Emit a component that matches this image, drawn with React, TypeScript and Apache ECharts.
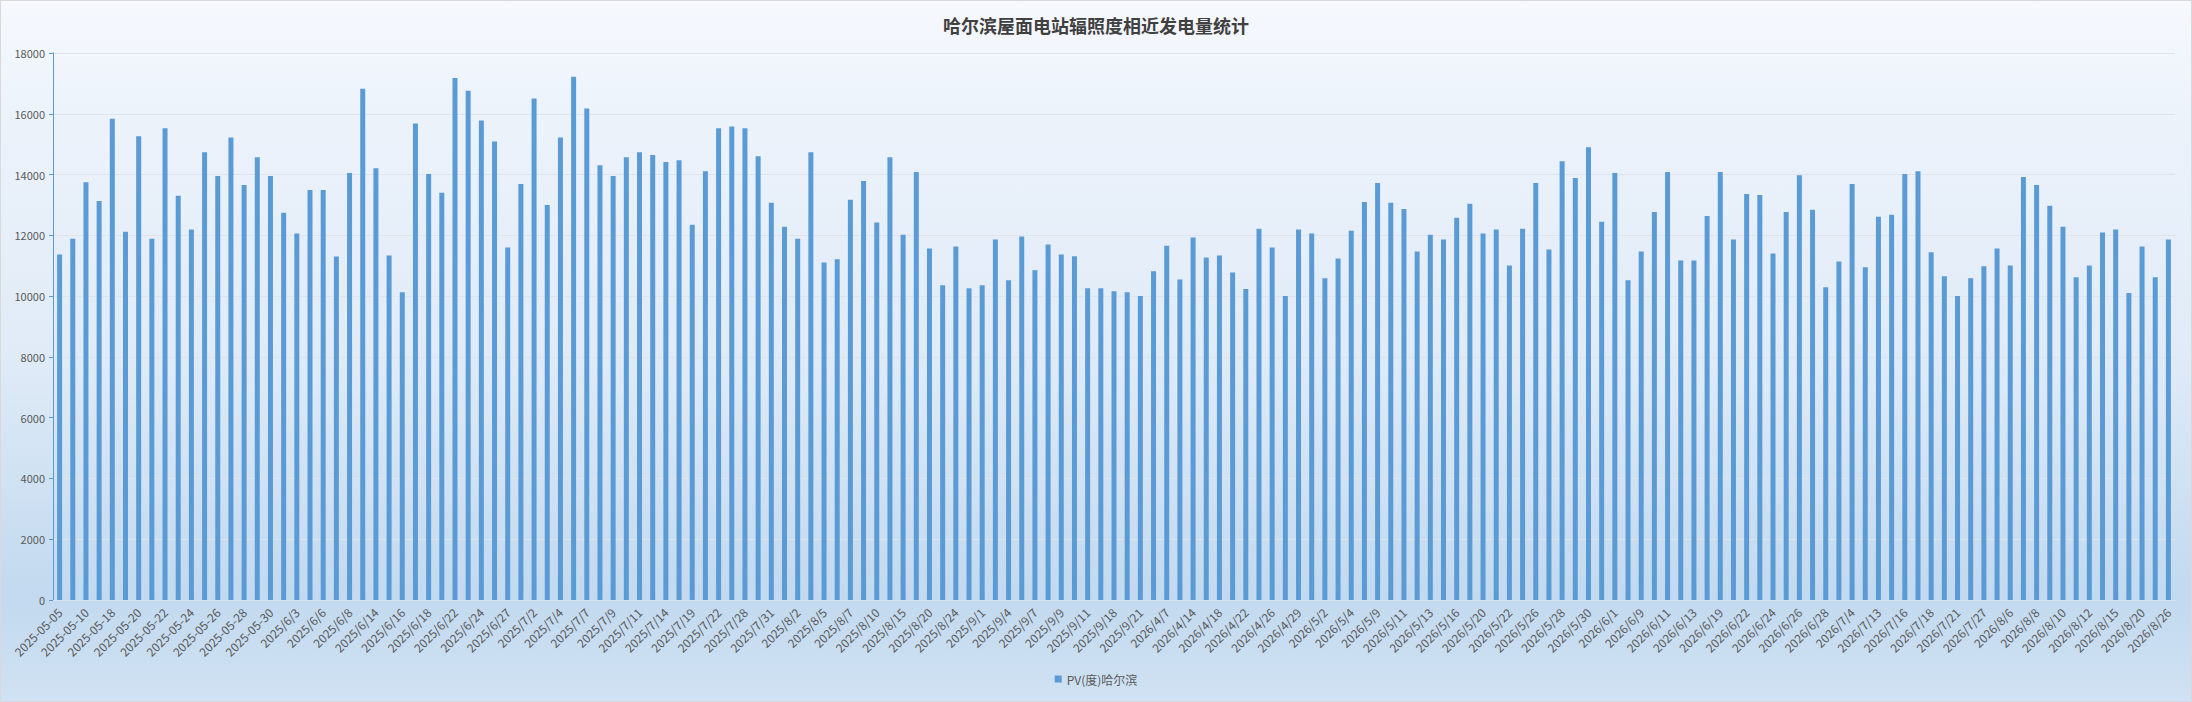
import React, { useEffect, useRef } from "react";
import * as echarts from "echarts";

const titleText = "哈尔滨屋面电站辐照度相近发电量统计";
const seriesName = "PV(度)哈尔滨";

const categories: string[] = [
  "2025-05-05", "2025-05-08", "2025-05-10", "2025-05-15", "2025-05-18", "2025-05-19", "2025-05-20", "2025-05-21",
  "2025-05-22", "2025-05-23", "2025-05-24", "2025-05-25", "2025-05-26", "2025-05-27", "2025-05-28", "2025-05-29",
  "2025-05-30", "2025/6/1", "2025/6/3", "2025/6/4", "2025/6/6", "2025/6/7", "2025/6/8", "2025/6/10",
  "2025/6/14", "2025/6/15", "2025/6/16", "2025/6/17", "2025/6/18", "2025/6/20", "2025/6/22", "2025/6/23",
  "2025/6/24", "2025/6/25", "2025/6/27", "2025/6/30", "2025/7/2", "2025/7/3", "2025/7/4", "2025/7/6",
  "2025/7/7", "2025/7/8", "2025/7/9", "2025/7/10", "2025/7/11", "2025/7/13", "2025/7/14", "2025/7/17",
  "2025/7/19", "2025/7/21", "2025/7/22", "2025/7/25", "2025/7/28", "2025/7/30", "2025/7/31", "2025/8/1",
  "2025/8/2", "2025/8/3", "2025/8/5", "2025/8/6", "2025/8/7", "2025/8/9", "2025/8/10", "2025/8/12",
  "2025/8/15", "2025/8/17", "2025/8/20", "2025/8/22", "2025/8/24", "2025/8/28", "2025/9/1", "2025/9/2",
  "2025/9/4", "2025/9/5", "2025/9/7", "2025/9/8", "2025/9/9", "2025/9/10", "2025/9/11", "2025/9/15",
  "2025/9/18", "2025/9/20", "2025/9/21", "2026/4/3", "2026/4/7", "2026/4/10", "2026/4/14", "2026/4/16",
  "2026/4/18", "2026/4/20", "2026/4/22", "2026/4/24", "2026/4/26", "2026/4/28", "2026/4/29", "2026/5/1",
  "2026/5/2", "2026/5/3", "2026/5/4", "2026/5/7", "2026/5/9", "2026/5/10", "2026/5/11", "2026/5/12",
  "2026/5/13", "2026/5/15", "2026/5/16", "2026/5/18", "2026/5/20", "2026/5/21", "2026/5/22", "2026/5/24",
  "2026/5/26", "2026/5/27", "2026/5/28", "2026/5/29", "2026/5/30", "2026/5/31", "2026/6/1", "2026/6/5",
  "2026/6/9", "2026/6/10", "2026/6/11", "2026/6/12", "2026/6/13", "2026/6/16", "2026/6/19", "2026/6/21",
  "2026/6/22", "2026/6/23", "2026/6/24", "2026/6/25", "2026/6/26", "2026/6/27", "2026/6/28", "2026/7/1",
  "2026/7/4", "2026/7/9", "2026/7/13", "2026/7/14", "2026/7/16", "2026/7/17", "2026/7/18", "2026/7/20",
  "2026/7/21", "2026/7/24", "2026/7/27", "2026/8/2", "2026/8/6", "2026/8/7", "2026/8/8", "2026/8/9",
  "2026/8/10", "2026/8/11", "2026/8/12", "2026/8/14", "2026/8/15", "2026/8/17", "2026/8/20", "2026/8/23",
  "2026/8/26",
];

const values: number[] = [
  11370, 11890, 13750, 13130, 15840, 12120, 15260, 11890, 15520, 13300,
  12190, 14730, 13950, 15220, 13660, 14570, 13950, 12740, 12060, 13490,
  13490, 11300, 14050, 16820, 14210, 11340, 10130, 15680, 14020, 13400,
  17180, 16760, 15780, 15090, 11600, 13690, 16500, 13000, 15220, 17220,
  16170, 14310, 13950, 14570, 14730, 14640, 14410, 14470, 12350, 14110,
  15520, 15580, 15520, 14600, 13070, 12280, 11890, 14730, 11110, 11210,
  13170, 13790, 12420, 14570, 12020, 14080, 11570, 10360, 11630, 10260,
  10360, 11860, 10520, 11960, 10850, 11700, 11370, 11310, 10260, 10260,
  10160, 10130, 10000, 10820, 11660, 10550, 11930, 11270, 11340, 10780,
  10230, 12220, 11600, 10000, 12190, 12060, 10590, 11240, 12150, 13100,
  13720, 13070, 12870, 11470, 12020, 11860, 12580, 13040, 12060, 12190,
  11010, 12220, 13720, 11530, 14440, 13890, 14900, 12450, 14050, 10520,
  11470, 12770, 14080, 11170, 11170, 12640, 14080, 11860, 13360, 13330,
  11400, 12770, 13980, 12840, 10290, 11140, 13690, 10950, 12610, 12680,
  14020, 14110, 11440, 10650, 10000, 10590, 10980, 11570, 11010, 13920,
  13660, 12970, 12280, 10620, 11010, 12090, 12190, 10100, 11630, 10620,
  11860,
];

const yTicks: number[] = [0, 2000, 4000, 6000, 8000, 10000, 12000, 14000, 16000, 18000];

export default function App() {
  const ref = useRef<HTMLDivElement>(null);
  useEffect(() => {
    if (!ref.current) return;
    const chart = echarts.init(ref.current, undefined, { renderer: "svg" });
    const font = "'Noto Sans CJK SC', 'Noto Sans', sans-serif";
    chart.setOption({
      animation: false,
      backgroundColor: new echarts.graphic.LinearGradient(0, 0, 0, 1, [
        { offset: 0, color: "#f6f9fe" },
        { offset: 0.15, color: "#edf3fb" },
        { offset: 0.5, color: "#e0ebf7" },
        { offset: 0.85, color: "#c2d9ef" },
        { offset: 1, color: "#d0e2f3" },
      ]),
      textStyle: { fontFamily: font },
      title: {
        text: titleText,
        left: "center",
        top: 10,
        textStyle: { fontSize: 18, fontWeight: "bold", color: "#404040", fontFamily: font },
      },
      legend: {
        bottom: 11,
        left: "center",
        itemWidth: 7,
        itemHeight: 7,
        itemGap: 6,
        icon: "rect",
        textStyle: { fontSize: 12, color: "#595959", fontFamily: font },
        data: [seriesName],
      },
      grid: { left: 52, right: 16, top: 52, bottom: 101, containLabel: false },
      xAxis: {
        type: "category",
        data: categories,
        axisLine: { show: true, lineStyle: { color: "#d6e4f2", width: 1 } },
        axisTick: { show: false },
        axisLabel: {
          interval: 1,
          rotate: 45,
          fontSize: 12,
          color: "#595959",
          margin: 10,
          fontFamily: font,
        },
      },
      yAxis: {
        type: "value",
        min: yTicks[0],
        max: yTicks[yTicks.length - 1],
        interval: 2000,
        axisLine: { show: true, lineStyle: { color: "#5b9bd5", width: 1 } },
        axisTick: { show: true, length: 4, lineStyle: { color: "#5b9bd5" } },
        axisLabel: {
          fontSize: 11,
          color: "#595959",
          margin: 8,
          fontFamily: font,
          formatter: (v: number) => String(v),
        },
        splitLine: { show: true, lineStyle: { color: "#dfe4ea", width: 1 } },
      },
      series: [
        {
          name: seriesName,
          type: "bar",
          data: values,
          barWidth: 5,
          itemStyle: { color: "#5b9bd5" },
        },
      ],
    });
    return () => chart.dispose();
  }, []);
  return (
    <div
      ref={ref}
      style={{
        position: "fixed",
        left: 0,
        top: 0,
        width: 2192,
        height: 702,
        boxSizing: "border-box",
        border: "1px solid #d9d9d9",
      }}
    />
  );
}
